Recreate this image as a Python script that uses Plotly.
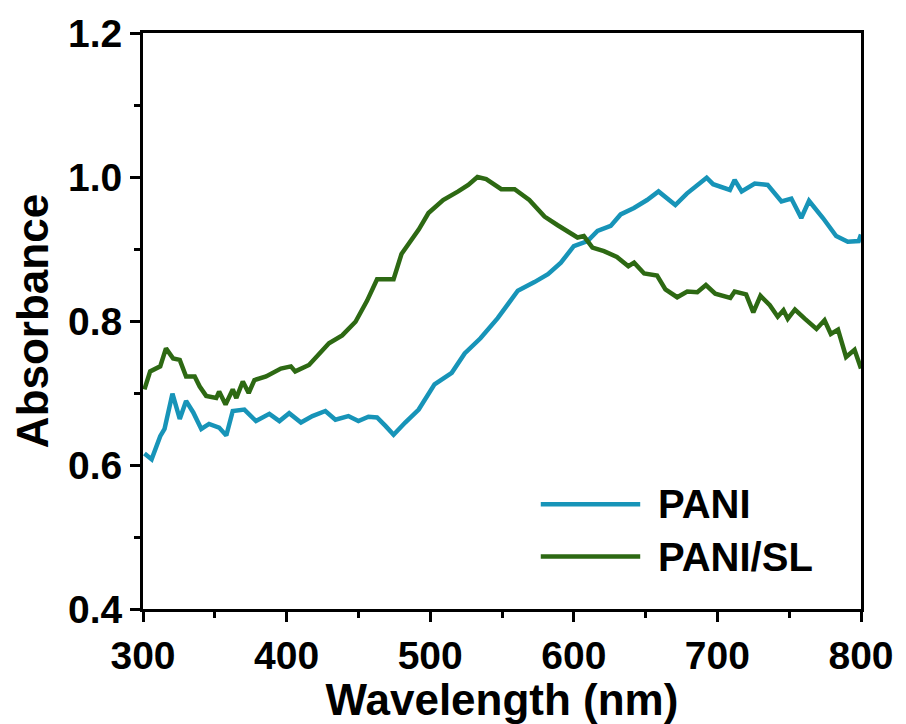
import plotly.graph_objects as go

# ---- data ----
pani_wl = [301, 306, 312, 315, 320.5, 325.6, 330, 335, 340.6, 346, 353, 358, 362.5, 370.6,
           378.7, 388, 395, 401.8, 410, 418, 427, 434, 443, 450, 457, 463, 469, 474.5,
           482.6, 492, 503, 515, 524, 535, 547, 561, 572.6, 582, 591, 600, 609.6, 616.5,
           625.7, 632.6, 641.9, 651, 659, 670.7, 678.7, 686.8, 692.5, 697, 708.7, 712,
           716.9, 726, 735, 744.6, 751.5, 758.4, 763.8, 773.5, 782.7, 790.8, 798.4, 800]
pani_abs = [0.616, 0.608, 0.640, 0.650, 0.699, 0.664, 0.689, 0.673, 0.650, 0.657, 0.652,
            0.641, 0.675, 0.677, 0.661, 0.671, 0.661, 0.672, 0.659, 0.668, 0.675, 0.663,
            0.668, 0.661, 0.667, 0.666, 0.654, 0.642, 0.659, 0.677, 0.712, 0.728, 0.755,
            0.776, 0.804, 0.842, 0.854, 0.865, 0.881, 0.904, 0.911, 0.925, 0.932, 0.948,
            0.957, 0.968, 0.980, 0.961, 0.977, 0.989, 0.999, 0.990, 0.982, 0.996, 0.980,
            0.991, 0.989, 0.966, 0.970, 0.943, 0.967, 0.943, 0.918, 0.910, 0.911, 0.920]

sl_wl = [301, 305, 312, 316, 321, 325.6, 330, 336, 339.5, 344, 351, 353, 357.5, 362.5, 365,
         369.5, 373.6, 377.6, 385.7, 390, 396, 403, 406, 415.6, 422.6, 429.5, 438.7, 448,
         456, 463, 468.8, 474.5, 480, 484.9, 492, 498.8, 509, 519.5, 526.5, 532.9, 539,
         549.5, 558.8, 569, 579.6, 588.8, 602.6, 607, 613, 621, 630, 638, 642, 649, 658,
         663.8, 672, 679, 686, 692, 698.5, 709, 712, 720, 725, 730, 736.5, 742, 746, 749,
         754, 761, 769, 774.6, 779, 784, 789.6, 795.5, 800]
sl_abs = [0.705, 0.730, 0.737, 0.762, 0.748, 0.746, 0.723, 0.723, 0.709, 0.696, 0.693,
          0.702, 0.684, 0.705, 0.693, 0.716, 0.700, 0.718, 0.723, 0.728, 0.734, 0.737,
          0.730, 0.739, 0.753, 0.769, 0.780, 0.799, 0.828, 0.858, 0.858, 0.858, 0.893,
          0.906, 0.927, 0.950, 0.968, 0.980, 0.989, 1.000, 0.997, 0.983, 0.983, 0.968,
          0.945, 0.933, 0.916, 0.918, 0.902, 0.897, 0.889, 0.876, 0.881, 0.866, 0.863,
          0.844, 0.833, 0.841, 0.840, 0.850, 0.838, 0.832, 0.841, 0.837, 0.812, 0.835,
          0.822, 0.806, 0.815, 0.803, 0.816, 0.803, 0.789, 0.801, 0.782, 0.788, 0.750,
          0.760, 0.734]

series_names = ["PANI", "PANI/SL"]
colors = ["#1794b8", "#2d6913"]

x_ticks = [300, 400, 500, 600, 700, 800]
y_ticks = [0.4, 0.6, 0.8, 1.0, 1.2]

FONT = "Liberation Sans, Arial, sans-serif"

fig = go.Figure()
fig.add_trace(go.Scatter(x=pani_wl, y=pani_abs, mode="lines", name=series_names[0],
                         line=dict(color=colors[0], width=4.5), showlegend=False))
fig.add_trace(go.Scatter(x=sl_wl, y=sl_abs, mode="lines", name=series_names[1],
                         line=dict(color=colors[1], width=4.5), showlegend=False))

# manual legend (long line samples as in the reference)
legend_y = [0.182, 0.091]
for name, col, yy in zip(series_names, colors, legend_y):
    fig.add_shape(type="line", xref="paper", yref="paper", x0=0.554, x1=0.6925,
                  y0=yy, y1=yy, line=dict(color=col, width=4.5))
    fig.add_annotation(xref="paper", yref="paper", x=0.714, y=yy, text="<b>%s</b>" % name,
                       showarrow=False, xanchor="left", yanchor="middle",
                       font=dict(family=FONT, size=40, color="black"))

axis_common = dict(
    showline=True, linecolor="black", linewidth=3, mirror=True,
    ticks="outside", ticklen=10, tickwidth=3, tickcolor="black",
    showgrid=False, zeroline=False,
    tickfont=dict(family=FONT, size=39, color="black", weight="bold"),
)

fig.update_xaxes(
    range=[300, 800], tickvals=x_ticks, ticktext=[str(v) for v in x_ticks],
    minor=dict(ticks="outside", ticklen=6, tickwidth=3, tickcolor="black", dtick=50, tick0=300),
    title=dict(text="Wavelength (nm)", font=dict(family=FONT, size=44, color="black", weight="bold"),
               standoff=4),
    **axis_common,
)
fig.update_yaxes(
    range=[0.4, 1.2], tickvals=y_ticks, ticktext=["%.1f" % v for v in y_ticks],
    minor=dict(ticks="outside", ticklen=6, tickwidth=3, tickcolor="black", dtick=0.1, tick0=0.4),
    title=dict(text="Absorbance", font=dict(family=FONT, size=44, color="black", weight="bold"),
               standoff=6),
    **axis_common,
)

fig.update_layout(
    width=906, height=724,
    margin=dict(l=143, r=41, t=33, b=109),
    plot_bgcolor="white", paper_bgcolor="white",
    font=dict(family=FONT, color="black"),
)

fig.write_html("out.html")
